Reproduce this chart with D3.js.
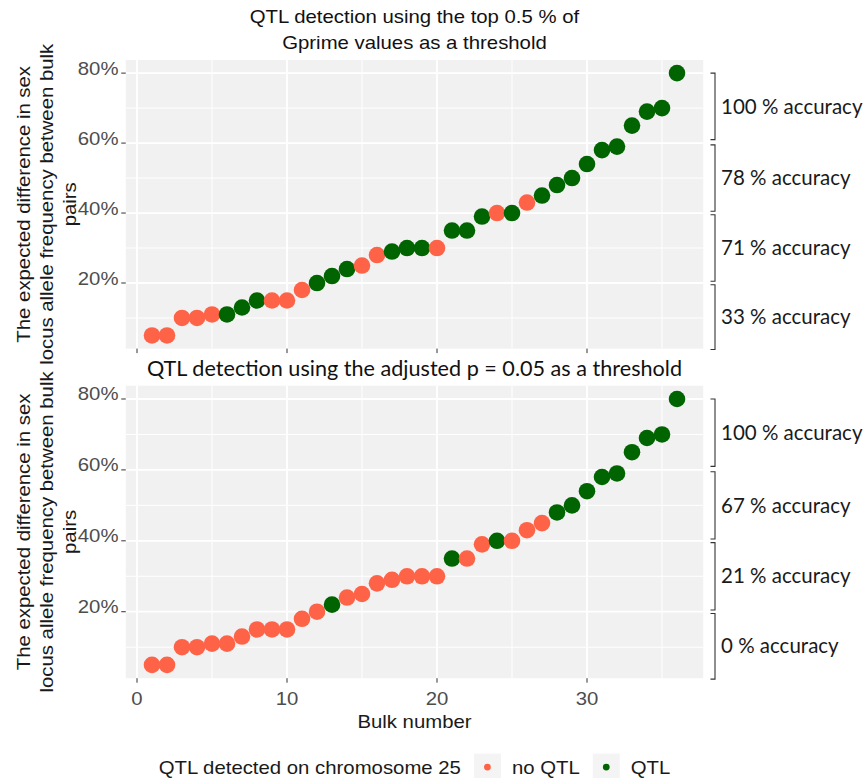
<!DOCTYPE html>
<html>
<head>
<meta charset="utf-8">
<script src="https://cdn.jsdelivr.net/npm/d3@7"></script>
<style>
  body { margin: 0; background: #fff; }
  svg { display: block; }
</style>
</head>
<body>
<div id="main"></div>
<script>
const ctx = {
    w: 866,
    h: 778,
    left: 125.75,
    right: 703.25,
};

// bulk pairs, sorted by expected difference
const bulkNumber = [1,2,3,4,5,6,7,8,9,10,11,12,13,14,15,16,17,18,19,20,21,22,23,24,25,26,27,28,29,30,31,32,33,34,35,36];
const expectedDiff = [5,5,10,10,11,11,13,15,15,15,18,20,22,24,25,28,29,30,30,30,35,35,39,40,40,43,45,48,50,54,58,59,65,69,70,80];
// 1 = QTL detected on chromosome 25, 0 = no QTL
const qtlGprime = [0,0,0,0,0,1,1,1,0,0,0,1,1,1,0,0,1,1,1,0,1,1,1,0,1,0,1,1,1,1,1,1,1,1,1,1];
const qtlAdjP   = [0,0,0,0,0,0,0,0,0,0,0,0,1,0,0,0,0,0,0,0,1,0,0,1,0,0,0,1,1,1,1,1,1,1,1,1];

const xTicks = [0, 10, 20, 30];
const xMinor = [5, 15, 25, 35];
const yTicks = [20, 40, 60, 80];
const yMinor = [10, 30, 50, 70];

// accuracy brackets (in % of expected difference)
const bracketHigh = [80, 59.5, 39.5, 19.5];
const bracketLow  = [61, 40.5, 20.5, 1];
const accGprime = ["100 % accuracy", "78 % accuracy", "71 % accuracy", "33 % accuracy"];
const accAdjP   = ["100 % accuracy", "67 % accuracy", "21 % accuracy", "0 % accuracy"];

const legendKeys = ["no QTL", "QTL"];
const color = d3.scaleOrdinal().domain(legendKeys).range(["#ff6347", "#006400"]);

const gg = "'Liberation Sans', Arial, sans-serif";
const fs = 17.7;

// the figure's text is a wide helvetica, so widen arial a bit
function stretch(sel, k = 1.15) {
    let total = 0;
    sel.each(function() {
        const len = this.getComputedTextLength() * k;
        d3.select(this).attr("textLength", len).attr("lengthAdjust", "spacingAndGlyphs");
        total = len;
    });
    return total;
}

const x = d3.scaleLinear().domain([-0.75, 37.75]).range([ctx.left, ctx.right]);

function drawPanel(svg, p) {
    const y = d3.scaleLinear().domain([1.25, 83.75]).range([p.bottom, p.top]);
    const g = svg.append("g");

    g.append("rect")
     .attr("x", ctx.left).attr("y", p.top)
     .attr("width", ctx.right - ctx.left).attr("height", p.bottom - p.top)
     .attr("fill", "#f1f1f1");

    // grid
    g.selectAll(".ymin").data(yMinor).enter().append("line")
     .attr("x1", ctx.left).attr("x2", ctx.right)
     .attr("y1", d => y(d)).attr("y2", d => y(d))
     .attr("stroke", "#fff").attr("stroke-width", 1);
    g.selectAll(".xmin").data(xMinor).enter().append("line")
     .attr("y1", p.top).attr("y2", p.bottom)
     .attr("x1", d => x(d)).attr("x2", d => x(d))
     .attr("stroke", "#fff").attr("stroke-width", 1);
    g.selectAll(".ymaj").data(yTicks).enter().append("line")
     .attr("x1", ctx.left).attr("x2", ctx.right)
     .attr("y1", d => y(d)).attr("y2", d => y(d))
     .attr("stroke", "#fff").attr("stroke-width", 1.8);
    g.selectAll(".xmaj").data(xTicks).enter().append("line")
     .attr("y1", p.top).attr("y2", p.bottom)
     .attr("x1", d => x(d)).attr("x2", d => x(d))
     .attr("stroke", "#fff").attr("stroke-width", 1.8);

    // y axis
    g.selectAll(".ytick").data(yTicks).enter().append("line")
     .attr("x1", ctx.left - 4.5).attr("x2", ctx.left)
     .attr("y1", d => y(d)).attr("y2", d => y(d))
     .attr("stroke", "#333").attr("stroke-width", 1);
    const ylab = g.selectAll(".ylab").data(yTicks).enter().append("text")
     .attr("x", 118.5).attr("y", d => y(d) + 1.5)
     .attr("text-anchor", "end")
     .style("font-family", gg).style("font-size", fs + "px")
     .attr("fill", "#4d4d4d")
     .text(d => d + "%");
    stretch(ylab);

    // x ticks
    g.selectAll(".xtick").data(xTicks).enter().append("line")
     .attr("x1", d => x(d)).attr("x2", d => x(d))
     .attr("y1", p.bottom).attr("y2", p.bottom + 4.5)
     .attr("stroke", "#333").attr("stroke-width", 1);

    // y axis title, three lines
    const titleLines = ["The expected difference in sex", "locus allele frequency between bulk", "pairs"];
    const cy = (p.top + p.bottom) / 2;
    titleLines.forEach((t, i) => {
        const tx = 30 + i * 23;
        const el = g.append("text")
         .attr("transform", `translate(${tx},${cy}) rotate(-90)`)
         .attr("text-anchor", "middle")
         .style("font-family", gg).style("font-size", fs + "px")
         .attr("fill", "#1a1a1a")
         .text(t);
        stretch(el);
    });

    // points
    g.selectAll(".pt").data(bulkNumber).enter().append("circle")
     .attr("cx", d => x(d))
     .attr("cy", (d, i) => y(expectedDiff[i]))
     .attr("r", 8.3)
     .attr("fill", (d, i) => color(legendKeys[p.qtl[i]]));

    // accuracy brackets on the right
    const bx = 715;
    const br = g.selectAll(".br").data(p.acc).enter().append("g");
    br.append("path")
      .attr("d", (d, i) => `M${bx - 4.5},${y(bracketHigh[i])}H${bx}V${y(bracketLow[i])}H${bx - 4.5}`)
      .attr("fill", "none").attr("stroke", "#333").attr("stroke-width", 1.1);
    br.append("text")
      .attr("x", bx + 6)
      .attr("y", (d, i) => y((bracketHigh[i] + bracketLow[i]) / 2))
      .attr("dy", "0.35em")
      .style("font-family", "Lato, 'Open Sans', sans-serif").style("font-size", "20.5px")
      .attr("fill", "#1a1a1a")
      .text(d => d);

    return y;
}

function createViz() {
    const svg = d3.select("#main").append("svg")
        .attr("width", ctx.w).attr("height", ctx.h);
    const cx = (ctx.left + ctx.right) / 2;

    // top title (ggplot style)
    ["QTL detection using the top 0.5 % of", "Gprime values as a threshold"].forEach((t, i) => {
        const el = svg.append("text")
          .attr("x", cx).attr("y", 23 + i * 26)
          .attr("text-anchor", "middle")
          .style("font-family", gg).style("font-size", fs + "px")
          .attr("fill", "#111")
          .text(t);
        stretch(el);
    });

    drawPanel(svg, { top: 60, bottom: 348.6, qtl: qtlGprime, acc: accGprime });

    // second title was typed in another font
    svg.append("text")
       .attr("x", cx).attr("y", 376)
       .attr("text-anchor", "middle")
       .style("font-family", "Lato, 'Open Sans', sans-serif").style("font-size", "20.5px")
       .attr("textLength", 535).attr("lengthAdjust", "spacingAndGlyphs")
       .attr("fill", "#111")
       .text("QTL detection using the adjusted p = 0.05 as a threshold");

    const bottom = 678.2;
    drawPanel(svg, { top: 385.7, bottom: bottom, qtl: qtlAdjP, acc: accAdjP });

    // x tick labels + title
    const xl = svg.selectAll(".xlab").data(xTicks).enter().append("text")
       .attr("x", d => x(d)).attr("y", 704.5)
       .attr("text-anchor", "middle")
       .style("font-family", gg).style("font-size", fs + "px")
       .attr("fill", "#4d4d4d")
       .text(d => d);
    stretch(xl);
    const xt = svg.append("text")
       .attr("x", cx).attr("y", 727.5)
       .attr("text-anchor", "middle")
       .style("font-family", gg).style("font-size", fs + "px")
       .attr("fill", "#1a1a1a")
       .text("Bulk number");
    stretch(xt);

    // legend at the bottom
    const lg = svg.append("g");
    const ly = 773.6;
    const lt = lg.append("text")
       .attr("x", 0).attr("y", ly)
       .style("font-family", gg).style("font-size", fs + "px")
       .attr("fill", "#1a1a1a")
       .text("QTL detected on chromosome 25");
    let pos = stretch(lt);
    legendKeys.forEach(k => {
        pos += 13;
        lg.append("rect").attr("x", pos).attr("y", ly - 20).attr("width", 27).attr("height", 27)
          .attr("fill", "#f4f4f4");
        lg.append("circle").attr("cx", pos + 13.5).attr("cy", ly - 6.5).attr("r", 3.4)
          .attr("fill", color(k));
        pos += 27 + 11;
        const t = lg.append("text").attr("x", pos).attr("y", ly)
          .style("font-family", gg).style("font-size", fs + "px")
          .attr("fill", "#1a1a1a")
          .text(k);
        pos += stretch(t);
    });
    lg.attr("transform", `translate(${cx - pos / 2},0)`);
}

createViz();
</script>
</body>
</html>
